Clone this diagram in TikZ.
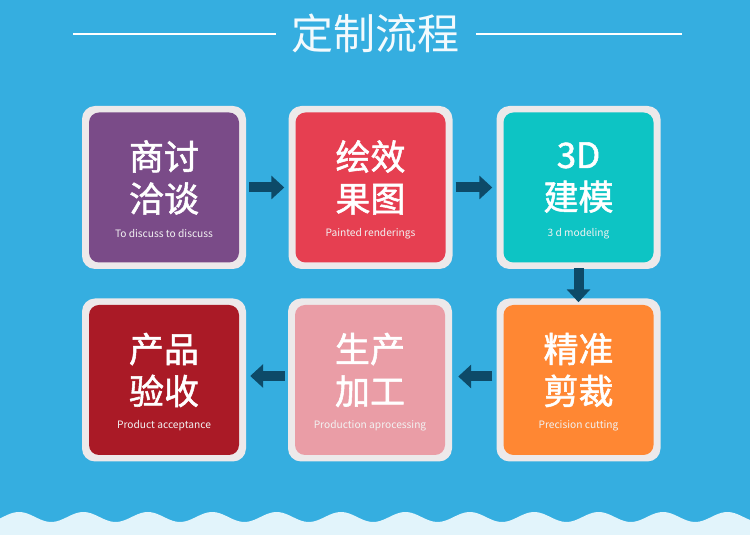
\documentclass[tikz,border=0pt]{standalone}
\usepackage{fontspec}
\setmainfont{Noto Sans CJK SC}
\newfontfamily\cnmid[FakeBold=1.5]{Noto Sans CJK SC}
\definecolor{sky}{HTML}{35AEE0}
\definecolor{foam}{HTML}{E2F4FB}
\definecolor{rim}{HTML}{EDE9EA}
\definecolor{ink}{HTML}{0D4A68}
\definecolor{plum}{HTML}{7A4B88}
\definecolor{rose}{HTML}{E63F51}
\definecolor{aqua}{HTML}{0DC4C4}
\definecolor{tang}{HTML}{FF8733}
\definecolor{blush}{HTML}{EA9DA6}
\definecolor{wine}{HTML}{AA1A26}
\usetikzlibrary{arrows.meta,positioning,calc}
\tikzset{
  frame/.style={fill=rim,rounded corners=13pt,minimum width=164pt,minimum height=163pt,inner sep=0pt},
  card/.style={rounded corners=10pt,minimum size=150pt,inner sep=0pt},
  big/.style={text=white,align=center,font=\cnmid\fontsize{35}{42}\selectfont,inner sep=0pt},
  sub/.style={text=white!90!gray,font=\fontsize{10.2}{12}\selectfont,inner sep=0pt},
  flow/.style={ink,line width=10pt,-{Triangle[width=23pt,length=13pt]}},
  rule/.style={white,line width=1.6pt}
}

\begin{document}
\begin{tikzpicture}[x=1pt,y=1pt]
    \fill[sky] (0,0) rectangle (750,535);
    \useasboundingbox (0,0) rectangle (750,535);
    % waves at the bottom
    \fill[foam] (0,0) -- plot[domain=0:750,samples=240] (\x,{18+5*cos((\x-19)/64.4*360)}) -- (750,0) -- cycle;
    % heading
    \node[text=white!94!sky,font=\fontsize{42}{42}\selectfont,inner sep=0pt] (head) at (375,502) {定制流程};
    \coordinate (la) at (73,501);
    \coordinate (rb) at (682,501);
    \draw[rule] (la) -- ([xshift=-15pt]la -| head.west);
    \draw[rule] ([xshift=17pt]rb -| head.east) -- (rb);
    % steps
    \foreach \x/\y/\n/\c/\t/\e in {164/347.5/s1/plum/{商讨\\洽谈}/To discuss to discuss,
        370.5/347.5/s2/rose/{绘效\\果图}/Painted renderings,
        578.5/347.5/s3/aqua/{3D\\建模}/3 d modeling,
        164/155/s4/wine/{产品\\验收}/Product acceptance,
        370/155/s5/blush/{生产\\加工}/Production aprocessing,
        578.5/155/s6/tang/{精准\\剪裁}/Precision cutting}{
      \node[frame] (f\n) at (\x,\y) {};
      \node[card,fill=\c] (\n) at (\x,\y) {};
      \node[big] at ([yshift=10pt]\n.center) {\t};
      \node[sub] at ([yshift=-46pt]\n.center) {\e};
    }
    \draw[flow,shorten <=3pt,shorten >=4pt] (fs1) -- (fs2);
    \draw[flow,shorten <=3pt,shorten >=4pt] (fs2) -- (fs3);
    \draw[flow,shorten <=-1pt,shorten >=-4pt] (fs3) -- (fs6);
    \draw[flow,shorten <=4pt,shorten >=6pt] ([yshift=3.5pt]fs6.west) -- ([yshift=3.5pt]fs5.east);
    \draw[flow,shorten <=3pt,shorten >=4pt] ([yshift=4pt]fs5.west) -- ([yshift=4pt]fs4.east);
  \end{tikzpicture}
\end{document}
